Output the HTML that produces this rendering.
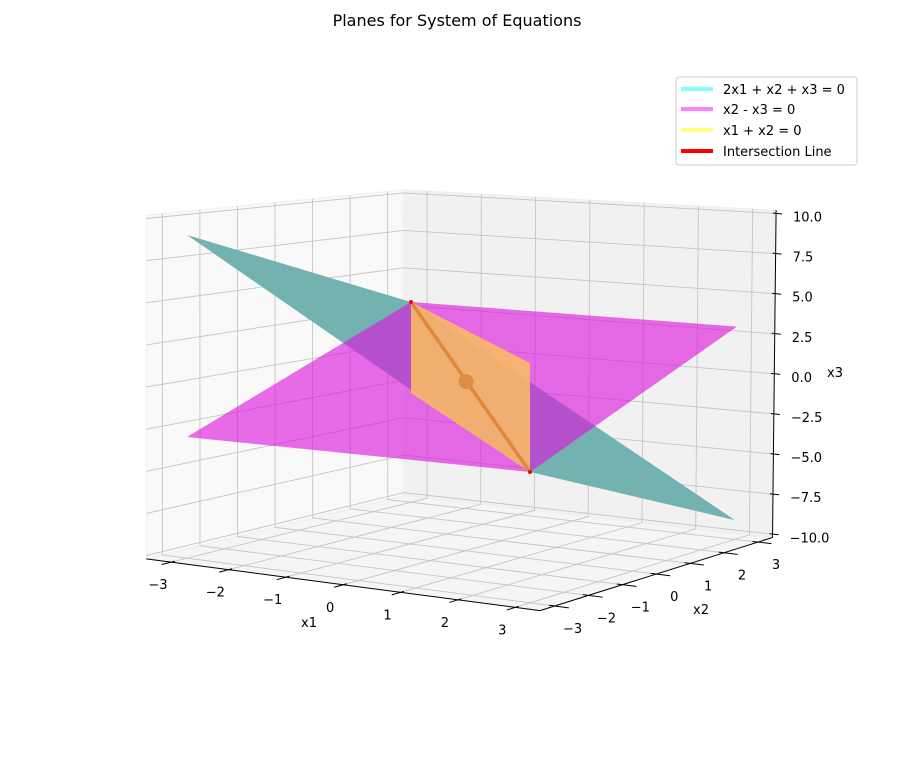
<!DOCTYPE html>
<html><head><meta charset="utf-8">
<style>
html,body{margin:0;padding:0;background:#fff;}
svg{display:block;font-family:"DejaVu Sans","Liberation Sans",sans-serif;}
</style></head>
<body>
<svg id="chart" width="914" height="760" viewBox="0 0 914 760" xmlns="http://www.w3.org/2000/svg">
<text x="457" y="26" text-anchor="middle" font-size="16">Planes for System of Equations</text>
<g id="panes"></g>
<g id="grid"></g>
<g id="surfaces"></g>
<g id="axes"></g>
<g>
<rect x="676" y="77" width="181" height="88" rx="3" fill="#fff" stroke="#cccccc" stroke-width="1"/>
<g><line x1="681" y1="89" x2="713" y2="89" stroke="#80ffff" stroke-width="4"/><text x="723" y="94" font-size="13">2x1 + x2 + x3 = 0</text></g>
<g><line x1="681" y1="109" x2="713" y2="109" stroke="#ff80ff" stroke-width="4"/><text x="723" y="114" font-size="13">x2 - x3 = 0</text></g>
<g><line x1="681" y1="130" x2="713" y2="130" stroke="#ffff80" stroke-width="4"/><text x="723" y="135" font-size="13">x1 + x2 = 0</text></g>
<g><line x1="681" y1="151" x2="713" y2="151" stroke="#ff0000" stroke-width="4"/><text x="723" y="156" font-size="13">Intersection Line</text></g>
</g>
</svg>
<script>
// ---- data ----
const x1Ticks = [-3, -2, -1, 0, 1, 2, 3];
const x2Ticks = [-3, -2, -1, 0, 1, 2, 3];
const zTicks = [-10, -7.5, -5, -2.5, 0, 2.5, 5, 7.5, 10];
const zTickLabels = ["−10.0", "−7.5", "−5.0", "−2.5", "0.0", "2.5", "5.0", "7.5", "10.0"];
const x1Range = [-3, 3];
const x2Range = [-3, 3];
// plane 1: x3 = -2*x1 - x2 ; plane 2: x3 = x2 ; plane 3: x1 + x2 = 0, x3 in [-3,3]
const plane1Coef = [-2, -1];
const plane2Coef = [0, 1];
const plane3ZRange = [-3, 3];
const lineT = [-3, 3];
const solutionPoint = [0, 0, 0];

// ---- projection (calibrated box corners) ----
const C = {
  b00:[187,554.8], b10:[530,599.2], b01:[411,499.2], b11:[734.8,536.2],
  t00:[187,218.2], t10:[530,235.8], t01:[411,195.8], t11:[737.8,213.8]
};
function P(x1,x2,z){
  const u=(x1+3)/6, v=(x2+3)/6, w=(z+10)/20;
  function bil(a,b,c,d,k){return a[k]*(1-u)*(1-v)+b[k]*u*(1-v)+c[k]*(1-u)*v+d[k]*u*v;}
  const bx=bil(C.b00,C.b10,C.b01,C.b11,0), by=bil(C.b00,C.b10,C.b01,C.b11,1);
  const tx=bil(C.t00,C.t10,C.t01,C.t11,0), ty=bil(C.t00,C.t10,C.t01,C.t11,1);
  return [bx*(1-w)+tx*w, by*(1-w)+ty*w];
}
const NS="http://www.w3.org/2000/svg";
function el(tag,attrs,parent){const e=document.createElementNS(NS,tag);for(const k in attrs)e.setAttribute(k,attrs[k]);parent.appendChild(e);return e;}
function pts(arr){return arr.map(p=>P(p[0],p[1],p[2]).map(v=>v.toFixed(1)).join(',')).join(' ');}
const m=3.43, zm=10.2;

// panes
const panes=document.getElementById('panes');
let pn=el('polygon',{points:pts([[-m,-m,-zm],[m,-m,-zm],[m,m,-zm],[-m,m,-zm]]),fill:'#f5f5f5',stroke:'#eeeeee'},panes);


pn=el('polygon',{points:pts([[-m,-m,-zm],[-m,m,-zm],[-m,m,zm],[-m,-m,zm]]),fill:'#f9f9f9',stroke:'#eeeeee'},panes);


pn=el('polygon',{points:pts([[-m,m,-zm],[m,m,-zm],[m,m,zm],[-m,m,zm]]),fill:'#f1f1f1',stroke:'#eeeeee'},panes);



// grid
const grid=document.getElementById('grid');
const gs={fill:'none',stroke:'#c4c4c4','stroke-width':0.9};
x1Ticks.forEach(t=>{const g=el('polyline',Object.assign({points:pts([[t,-m,-zm],[t,m,-zm],[t,m,zm]])},gs),grid);

});
x2Ticks.forEach(t=>{const g=el('polyline',Object.assign({points:pts([[m,t,-zm],[-m,t,-zm],[-m,t,zm]])},gs),grid);

});
zTicks.forEach(t=>{const g=el('polyline',Object.assign({points:pts([[-m,-m,t],[-m,m,t],[m,m,t]])},gs),grid);

});

// surfaces
const surf=document.getElementById('surfaces');
const [a0,a1]=x1Range,[b0,b1]=x2Range;
function zp(c,x1,x2){return c[0]*x1+c[1]*x2;}
let s=el('polygon',{points:pts([[a0,b0,zp(plane1Coef,a0,b0)],[a1,b0,zp(plane1Coef,a1,b0)],[a1,b1,zp(plane1Coef,a1,b1)],[a0,b1,zp(plane1Coef,a0,b1)]]),fill:'#74b2b2'},surf);


s=el('polygon',{points:pts([[a0,b0,zp(plane2Coef,a0,b0)],[a1,b0,zp(plane2Coef,a1,b0)],[a1,b1,zp(plane2Coef,a1,b1)],[a0,b1,zp(plane2Coef,a0,b1)]]),fill:'rgb(220,20,220)','fill-opacity':0.62},surf);


s=el('polygon',{points:pts([[a0,-a0,plane3ZRange[0]],[a1,-a1,plane3ZRange[0]],[a1,-a1,plane3ZRange[1]],[a0,-a0,plane3ZRange[1]]]),fill:'rgb(250,190,95)','fill-opacity':0.85},surf);


const L0=P(lineT[0],-lineT[0],-lineT[0]), L1=P(lineT[1],-lineT[1],-lineT[1]);
s=el('line',{x1:L0[0],y1:L0[1],x2:L1[0],y2:L1[1],stroke:'rgb(225,135,60)','stroke-width':3.5},surf);


[L0,L1].forEach(p=>{const d=el('circle',{cx:p[0],cy:p[1],r:2,fill:'#ff0000'},surf);

});
const SP=P(solutionPoint[0],solutionPoint[1],solutionPoint[2]);
s=el('circle',{cx:SP[0],cy:SP[1],r:7.5,fill:'rgb(225,140,70)'},surf);



// axes
const ax=document.getElementById('axes');
const ls={stroke:'#000','stroke-width':1,fill:'none'};
let a=el('polyline',Object.assign({points:pts([[-m,-m,-zm],[m,-m,-zm]])},ls),ax);


a=el('polyline',Object.assign({points:pts([[m,-m,-zm],[m,m,-zm]])},ls),ax);


a=el('polyline',Object.assign({points:pts([[m,m,-zm],[m,m,zm]])},ls),ax);


x1Ticks.forEach(t=>{
  const p=P(t,-m,-zm), q=P(t,-m-0.25,-zm), r=P(t,-m+0.1,-zm);
  let tk=el('line',{x1:r[0],y1:r[1],x2:q[0],y2:q[1],stroke:'#000'},ax);
  
  
  let tx=el('text',{x:p[0]-13,y:p[1]+27,'text-anchor':'middle','font-size':13},ax);
  tx.textContent=String(t).replace('-','−');
  
  
});
x2Ticks.forEach(t=>{
  const p=P(m,t,-zm), q=P(m+0.25,t,-zm), r=P(m-0.1,t,-zm);
  let tk=el('line',{x1:r[0],y1:r[1],x2:q[0],y2:q[1],stroke:'#000'},ax);
  
  
  let tx=el('text',{x:p[0]+18,y:p[1]+27,'text-anchor':'middle','font-size':13},ax);
  tx.textContent=String(t).replace('-','−');
  
  
});
zTicks.forEach((t,i)=>{
  const p=P(m,m,t);
  let tk=el('line',{x1:p[0]-3,y1:p[1]-0.5,x2:p[0]+6,y2:p[1]+0.5,stroke:'#000'},ax);
  
  
  let tx=el('text',{x:p[0]+17,y:p[1]+8,'text-anchor':'start','font-size':13},ax);
  tx.textContent=zTickLabels[i];
  
  
});
let lb=el('text',{x:309,y:627,'text-anchor':'middle','font-size':13},ax);
lb.textContent='x1';


lb=el('text',{x:701,y:614,'text-anchor':'middle','font-size':13},ax);
lb.textContent='x2';


lb=el('text',{x:835,y:377,'text-anchor':'middle','font-size':13},ax);
lb.textContent='x3';


</script>
</body></html>
